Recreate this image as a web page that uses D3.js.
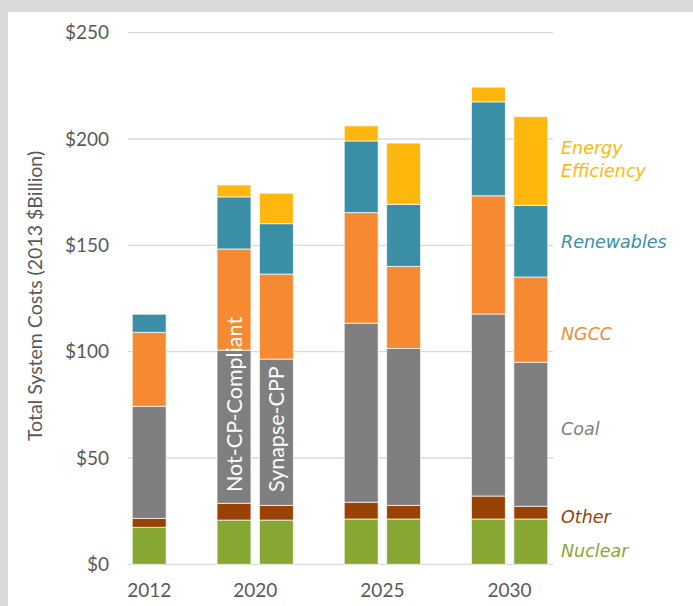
<!DOCTYPE html>
<html>
<head>
<meta charset="utf-8">
<script src="https://cdn.jsdelivr.net/npm/d3@7"></script>
<style>
  body { margin: 0; background: #d9d9d9; }
  svg { display: block; }
</style>
</head>
<body>
<svg id="chart"></svg>
<script>
// bar slots (g1..g3 are the gaps between year groups)
let slots = ['2012', 'g1', '2020a', '2020b', 'g2', '2025a', '2025b', 'g3', '2030a', '2030b']
let barSlots = ['2012', '2020a', '2020b', '2025a', '2025b', '2030a', '2030b']
let sources = ['Nuclear', 'Other', 'Coal', 'NGCC', 'Renewables', 'Energy Efficiency']

// $ billion, one value per bar in barSlots order
let nuclear    = [17.4, 20.8, 20.8, 21.3, 21.3, 21.3, 21.3]
let other      = [4.2, 7.9, 6.9, 7.9, 6.4, 10.8, 6.0]
let coal       = [52.7, 72.0, 68.8, 84.2, 73.8, 85.6, 67.7]
let ngcc       = [34.8, 47.6, 40.0, 52.0, 38.6, 55.6, 40.1]
let renewables = [8.5, 24.5, 23.7, 33.7, 29.2, 44.2, 33.7]
let efficiency = [0, 5.6, 14.3, 7.1, 28.8, 6.9, 41.7]

let yearLabels = ['2012', '2020', '2025', '2030']
let yearSlots = [['2012'], ['2020a', '2020b'], ['2025a', '2025b'], ['2030a', '2030b']]
let yTicks = [0, 50, 100, 150, 200, 250]
let barNotes = [['2020a', 'Not-CP-Compliant'], ['2020b', 'Synapse-CPP']]

let colors = {
    'Nuclear': '#86a833',
    'Other': '#984206',
    'Coal': '#7f7f7f',
    'NGCC': '#f68a33',
    'Renewables': '#3a8fa6',
    'Energy Efficiency': '#ffb60d'
}

const W = 693, H = 606
let svg = d3.select('#chart').attr('width', W).attr('height', H)

// white panel on the grey page
svg.append('rect').attr('width', W).attr('height', H).attr('fill', '#d9d9d9')
svg.append('rect').attr('x', 8).attr('y', 12).attr('width', W - 8).attr('height', H - 12).attr('fill', '#fff')

let x = d3.scaleBand().domain(slots).range([128, 552]).paddingInner(0.2).paddingOuter(0.1)
let y = d3.scaleLinear().domain([0, 250]).range([564.3, 32.7])

// gridlines
svg.append('g')
    .selectAll('line')
    .data(yTicks)
    .join('line')
    .attr('x1', 128).attr('x2', 553)
    .attr('y1', d => y(d)).attr('y2', d => y(d))
    .attr('stroke', '#d9d9d9')
    .attr('stroke-width', 1.3)

// y axis labels
let yAxis = d3.axisLeft(y).tickValues(yTicks).tickSize(0).tickPadding(0).tickFormat(d => '$' + d)
svg.append('g')
    .attr('transform', 'translate(109,0)')
    .call(yAxis)
    .call(g => g.select('.domain').remove())
    .selectAll('text')
    .attr('font-family', 'Lato')
    .attr('font-size', 19)
    .attr('fill', '#595959')

// y title
svg.append('text')
    .attr('transform', 'translate(42,296) rotate(-90)')
    .attr('text-anchor', 'middle')
    .attr('font-family', 'Lato')
    .attr('font-size', 19.5)
    .attr('fill', '#595959')
    .text('Total System Costs (2013 $Billion)')

// stack table
let table = barSlots.map((s, i) => ({
    slot: s,
    'Nuclear': nuclear[i],
    'Other': other[i],
    'Coal': coal[i],
    'NGCC': ngcc[i],
    'Renewables': renewables[i],
    'Energy Efficiency': efficiency[i]
}))
let series = d3.stack().keys(sources)(table)

svg.append('g')
    .selectAll('g')
    .data(series)
    .join('g')
    .attr('fill', d => colors[d.key])
    .selectAll('rect')
    .data(d => d.filter(p => p[1] - p[0] > 0))
    .join('rect')
    .attr('x', d => x(d.data.slot))
    .attr('width', x.bandwidth())
    .attr('y', d => y(d[1]))
    .attr('height', d => y(d[0]) - y(d[1]))
    .attr('stroke', '#fff')
    .attr('stroke-opacity', 0.7)
    .attr('stroke-width', 1)

// year labels under the groups
svg.append('g')
    .selectAll('text')
    .data(yearLabels)
    .join('text')
    .attr('x', (d, i) => {
        let s = yearSlots[i]
        return (x(s[0]) + x(s[s.length - 1]) + x.bandwidth()) / 2
    })
    .attr('y', 597)
    .attr('text-anchor', 'middle')
    .attr('font-family', 'Lato')
    .attr('font-size', 19)
    .attr('fill', '#595959')
    .text(d => d)

// rotated notes inside the 2020 bars, starting just above the Other segment
let noteBase = 34
svg.append('g')
    .selectAll('text')
    .data(barNotes)
    .join('text')
    .attr('transform', d => `translate(${x(d[0]) + x.bandwidth() / 2 + 7.5},${y(noteBase)}) rotate(-90)`)
    .attr('font-family', 'Lato')
    .attr('font-size', 21.5)
    .attr('fill', '#fff')
    .text(d => d[1])

// legend on the right, y in $B so it sits with the scale
let legend = [
    ['Energy', 192.9, 'Energy Efficiency'],
    ['Efficiency', 182.1, 'Energy Efficiency'],
    ['Renewables', 148.7, 'Renewables'],
    ['NGCC', 105.4, 'NGCC'],
    ['Coal', 60.7, 'Coal'],
    ['Other', 19.3, 'Other'],
    ['Nuclear', 3.3, 'Nuclear']
]
svg.append('g')
    .selectAll('text')
    .data(legend)
    .join('text')
    .attr('x', 561)
    .attr('y', d => y(d[1]))
    .attr('font-family', 'DejaVu Sans')
    .attr('font-style', 'italic')
    .attr('font-size', 17.5)
    .attr('fill', d => colors[d[2]])
    .text(d => d[0])
</script>
</body>
</html>
